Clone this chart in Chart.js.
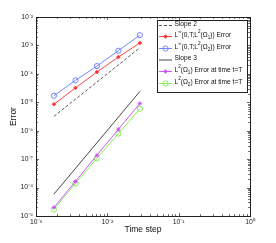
<!DOCTYPE html>
<html><head><meta charset="utf-8">
<script src="https://cdn.jsdelivr.net/npm/chart.js@4"></script>
<style>html,body{margin:0;padding:0;background:#fff}#wrap{width:276px;height:243px}</style>
</head><body><div id="wrap"><canvas id="c" width="276" height="243"></canvas></div>
<script>
// ---- data ----
const timeSteps = [0.001786, 0.003571, 0.007143, 0.014286, 0.028571];
const slopeX = [0.001786, 0.028571];
const slope2 = [3.2e-6, 8.3e-4];
const errLinfOmega1 = [8.5e-6, 3.2e-5, 1.16e-4, 3.9e-4, 1.22e-3];
const errLinfOmega2 = [1.7e-5, 5.9e-5, 1.88e-4, 6.5e-4, 2.3e-3];
const slope3 = [5.9e-9, 2.4e-5];
const errL2Omega1 = [2.0e-9, 1.65e-8, 1.37e-7, 1.12e-6, 9.1e-6];
const errL2Omega2 = [1.7e-9, 1.4e-8, 1.07e-7, 7.9e-7, 5.9e-6];
const xTicks = [1e-3, 1e-2, 1e-1, 1];
const yTicks = [1e-9, 1e-8, 1e-7, 1e-6, 1e-5, 1e-4, 1e-3, 1e-2];
const legendLabels = [
  "Slope 2",
  "L^{∞}(0,T;L^{2}(Ω_{1})) Error",
  "L^{∞}(0,T;L^{2}(Ω_{2})) Error",
  "Slope 3",
  "L^{2}(Ω_{1}) Error at time t=T",
  "L^{2}(Ω_{2}) Error at time t=T"
];
const xTitle = "Time step";
const yTitle = "Error";

const SUP = {"-":"⁻","0":"⁰","1":"¹","2":"²","3":"³","4":"⁴","5":"⁵","6":"⁶","7":"⁷","8":"⁸","9":"⁹"};
function powLabel(v){
  const e = Math.round(Math.log10(v));
  return "10" + String(e).split("").map(c=>SUP[c]).join("");
}
const pts = (xs, ys) => xs.map((x,i)=>({x, y: ys[i]}));

const FONT = "'Liberation Sans', Arial, sans-serif";
const datasets = [
  {label: legendLabels[0], data: pts(slopeX, slope2), borderColor:'#444', borderWidth:0.9, borderDash:[3,2], pointRadius:0},
  {label: legendLabels[1], data: pts(timeSteps, errLinfOmega1), borderColor:'#ff3030', backgroundColor:'#ff3030', borderWidth:0.9, pointStyle:'rectRot', pointRadius:1.8, pointBorderWidth:0.8},
  {label: legendLabels[2], data: pts(timeSteps, errLinfOmega2), borderColor:'#6677ff', backgroundColor:'rgba(0,0,0,0)', borderWidth:0.9, pointStyle:'circle', pointRadius:2.6, pointBorderWidth:0.9},
  {label: legendLabels[3], data: pts(slopeX, slope3), borderColor:'#333', borderWidth:0.9, pointRadius:0},
  {label: legendLabels[4], data: pts(timeSteps, errL2Omega1), borderColor:'#cc44ff', backgroundColor:'#cc44ff', borderWidth:0.9, pointStyle:'star', pointRadius:2.2, pointBorderWidth:0.8},
  {label: legendLabels[5], data: pts(timeSteps, errL2Omega2), borderColor:'#77ee44', backgroundColor:'rgba(0,0,0,0)', borderWidth:0.9, pointStyle:'circle', pointRadius:2.6, pointBorderWidth:0.9}
];

function drawRich(ctx, str, x, y, size){
  // parse ^{..} and _{..}
  const segs = [];
  let i = 0, buf = "";
  while (i < str.length){
    const c = str[i];
    if ((c === '^' || c === '_') && str[i+1] === '{'){
      if (buf) { segs.push({t:buf, k:0}); buf = ""; }
      const j = str.indexOf('}', i);
      segs.push({t: str.slice(i+2, j), k: c === '^' ? 1 : -1});
      i = j + 1;
    } else { buf += c; i++; }
  }
  if (buf) segs.push({t:buf, k:0});
  ctx.textBaseline = 'middle';
  ctx.textAlign = 'left';
  let cx = x;
  for (const s of segs){
    const fs = s.k === 0 ? size : size*0.7;
    ctx.font = fs + "px " + FONT;
    const dy = s.k === 1 ? -size*0.45 : (s.k === -1 ? size*0.35 : 0);
    ctx.fillText(s.t, cx, y + dy);
    cx += ctx.measureText(s.t).width;
  }
}

const boxPlugin = {
  id: 'boxPlugin',
  afterDraw(chart){
    const ctx = chart.ctx, a = chart.chartArea;
    const xs = chart.scales.x, ys = chart.scales.y;
    ctx.save();
    ctx.strokeStyle = '#222';
    ctx.lineWidth = 1;
    ctx.strokeRect(Math.round(a.left)+0.5, Math.round(a.top)+0.5, Math.round(a.right-a.left), Math.round(a.bottom-a.top));
    ctx.lineWidth = 0.7;
    ctx.beginPath();
    // x ticks
    for (let e = -3; e <= 0; e++){
      for (let m = 1; m <= 9; m++){
        const v = m * Math.pow(10, e);
        if (v > 1.0000001) break;
        const px = Math.round(xs.getPixelForValue(v)) + 0.5;
        const L = m === 1 ? 3 : 1.8;
        ctx.moveTo(px, a.bottom); ctx.lineTo(px, a.bottom - L);
        ctx.moveTo(px, a.top); ctx.lineTo(px, a.top + L);
      }
    }
    for (let e = -9; e <= -2; e++){
      for (let m = 1; m <= 9; m++){
        const v = m * Math.pow(10, e);
        if (v > 1.0000001e-2) break;
        const py = Math.round(ys.getPixelForValue(v)) + 0.5;
        const L = m === 1 ? 3 : 1.8;
        ctx.moveTo(a.left, py); ctx.lineTo(a.left + L, py);
        ctx.moveTo(a.right, py); ctx.lineTo(a.right - L, py);
      }
    }
    ctx.stroke();

    // legend
    const lx = 157, ly = 20, lw = 90, lh = 72;
    ctx.fillStyle = '#fff';
    ctx.fillRect(lx, ly, lw, lh);
    ctx.strokeStyle = '#222';
    ctx.lineWidth = 1;
    ctx.strokeRect(lx+0.5, ly+0.5, lw, lh);
    const rowsY = [25.5, 36.5, 48.5, 60, 71.5, 83.5];
    chart.data.datasets.forEach((ds, i) => {
      const y = rowsY[i];
      ctx.save();
      ctx.strokeStyle = ds.borderColor;
      ctx.lineWidth = ds.borderWidth;
      ctx.setLineDash(ds.borderDash || []);
      ctx.beginPath();
      ctx.moveTo(159, y); ctx.lineTo(172, y);
      ctx.stroke();
      ctx.setLineDash([]);
      if (ds.pointRadius > 0){
        ctx.fillStyle = ds.backgroundColor;
        ctx.lineWidth = ds.pointBorderWidth;
        Chart.helpers.drawPoint(ctx, {pointStyle: ds.pointStyle, radius: ds.pointRadius, borderWidth: ds.pointBorderWidth, rotation: 0}, 165.5, y);
      }
      ctx.restore();
      ctx.fillStyle = '#111';
      drawRich(ctx, ds.label, 174.5, y - 1.5, 6.6);
    });
    ctx.restore();
  }
};

new Chart(document.getElementById('c'), {
  type: 'line',
  data: { datasets },
  options: {
    responsive: false,
    animation: false,
    devicePixelRatio: 1,
    layout: { padding: { top: 17, right: 26, left: 0, bottom: 0 } },
    plugins: { legend: { display: false }, tooltip: { enabled: false } },
    elements: { line: { tension: 0 } },
    scales: {
      x: {
        type: 'logarithmic', min: 1e-3, max: 1,
        grid: { display: false, drawTicks: false }, border: { display: false },
        afterBuildTicks: s => { s.ticks = xTicks.map(v => ({value: v})); },
        afterFit: s => { s.height = 27; },
        ticks: { autoSkip: false, maxRotation: 0, padding: 2, color: '#222', font: { size: 6.8, family: FONT }, callback: v => powLabel(v) },
        title: { display: true, text: xTitle, color: '#111', font: { size: 8.5, family: FONT }, padding: { top: 0, bottom: 8 } }
      },
      y: {
        type: 'logarithmic', min: 1e-9, max: 1e-2,
        grid: { display: false, drawTicks: false }, border: { display: false },
        afterBuildTicks: s => { s.ticks = yTicks.map(v => ({value: v})); },
        afterFit: s => { s.width = 36; },
        ticks: { autoSkip: false, padding: 3, color: '#222', font: { size: 6.8, family: FONT }, callback: v => powLabel(v) },
        title: { display: true, text: yTitle, color: '#111', font: { size: 8.5, family: FONT }, padding: { top: 9, bottom: 0 } }
      }
    }
  },
  plugins: [boxPlugin]
});
</script>
</body></html>
